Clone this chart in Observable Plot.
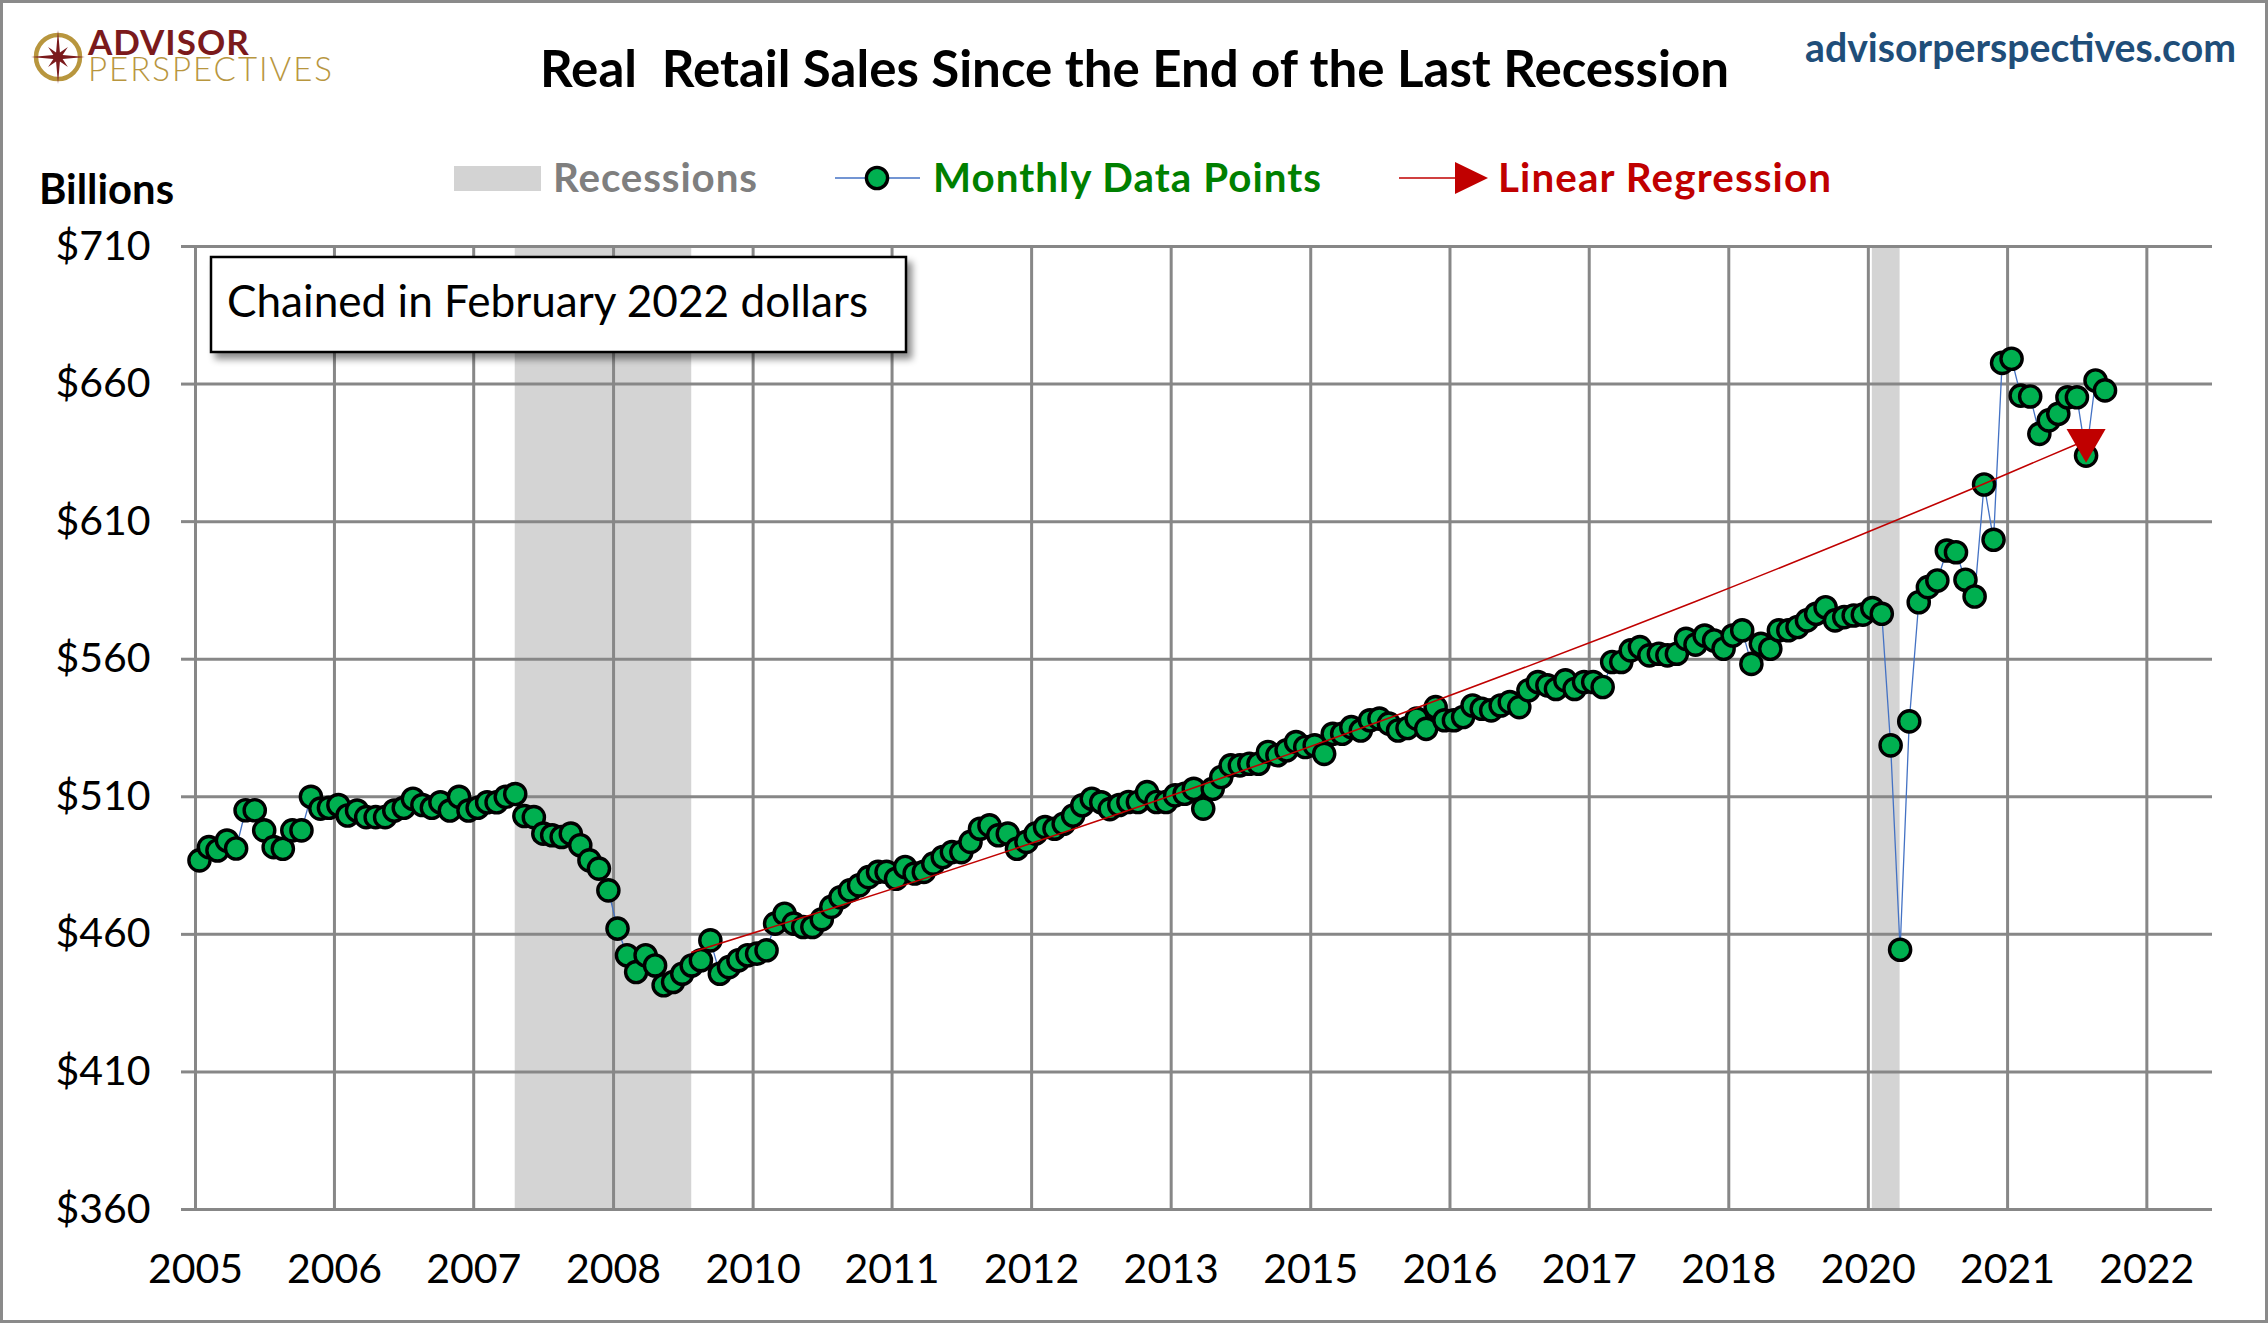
<!DOCTYPE html>
<html>
<head>
<meta charset="utf-8">
<script src="https://cdn.jsdelivr.net/npm/d3@7"></script>
<script src="https://cdn.jsdelivr.net/npm/@observablehq/plot@0.6"></script>
<style>
  html, body { margin: 0; padding: 0; background: #fff; }
  #page { position: relative; width: 2268px; height: 1323px; overflow: hidden; background: #fff; }
  #plot { position: absolute; left: 0; top: 0; }
  #overlay { position: absolute; left: 0; top: 0; }
  #logoText {
    position: absolute; left: 88px; top: 28px; margin: 0;
    font-family: Lato, 'Open Sans', sans-serif; font-size: 33px; line-height: 27px;
    white-space: pre; color: #b8963e; font-weight: 300; letter-spacing: 2px;
  }
  #logoText::first-line { color: #7b1a1c; font-weight: 700; font-size: 35px; letter-spacing: 1px; }
</style>
</head>
<body>
<div id="page">
  <div id="plot"></div>
  <svg id="overlay" width="2268" height="1323" font-family="Lato, 'Open Sans', sans-serif">
    <defs>
      <filter id="shadow" x="-5%" y="-10%" width="115%" height="140%">
        <feDropShadow dx="5" dy="6" stdDeviation="3.5" flood-color="#000" flood-opacity="0.45"/>
      </filter>
    </defs>
    <rect x="1.5" y="1.5" width="2265" height="1320" fill="none" stroke="#8a8a8a" stroke-width="3"/>
    <g transform="translate(58,57)">
      <circle r="22" fill="none" stroke="#b8963e" stroke-width="4.5"/>
      <polygon id="star" fill="#7b1a1c"/>
    </g>
    <text class="fit" data-w="1189" x="540" y="87" font-weight="700" font-size="47" fill="#000" xml:space="preserve">Real  Retail Sales Since the End of the Last Recession</text>
    <text class="fit" data-w="431" x="1805" y="62" font-weight="700" font-size="37" fill="#1f4e79">advisorperspectives.com</text>

    <rect x="454" y="166" width="87" height="25" fill="#d3d3d3"/>
    <text class="fit" data-w="204" x="553" y="192" font-weight="700" font-size="36" fill="#7f7f7f">Recessions</text>
    <line x1="835" x2="920" y1="178" y2="178" stroke="#4472c4" stroke-width="1.5"/>
    <circle cx="877" cy="178" r="10.6" fill="#00b050" stroke="#000" stroke-width="3.4"/>
    <text class="fit" data-w="388" x="933" y="192" font-weight="700" font-size="36" fill="#008000">Monthly Data Points</text>
    <line x1="1399" x2="1458" y1="178" y2="178" stroke="#c00000" stroke-width="1.6"/>
    <polygon points="1455,162 1488,178 1455,194" fill="#c00000"/>
    <text class="fit" data-w="333" x="1498" y="192" font-weight="700" font-size="36" fill="#c00000">Linear Regression</text>

    <text class="fit" data-w="135" x="39" y="204" font-weight="700" font-size="38" fill="#000">Billions</text>

    <rect x="211" y="257" width="695" height="95" fill="#fff" stroke="#000" stroke-width="2.5" filter="url(#shadow)"/>
    <text class="fit" data-w="641" x="227" y="317" font-size="40" fill="#000">Chained in February 2022 dollars</text>
  </svg>
  <div id="logoText">ADVISOR
PERSPECTIVES</div>
</div>
<script>
// ---------------- data ----------------
const firstYear = 2005;
// Real retail sales, $ billions (chained Feb 2022 dollars), one row per year, Jan..Dec
const sales2005 = [486.9, 491.7, 490.5, 494.1, 491.2, 505.1, 505.1, 497.8, 491.7, 491.1, 497.8, 497.8];
const sales2006 = [510.0, 505.7, 506.0, 507.0, 503.2, 505.0, 502.6, 502.6, 502.6, 505.0, 506.0, 509.3];
const sales2007 = [507.0, 506.0, 508.0, 505.0, 510.0, 505.0, 506.0, 508.0, 508.0, 510.0, 511.0, 503.0];
const sales2008 = [502.6, 496.6, 496.0, 495.4, 496.6, 492.4, 486.9, 483.9, 476.0, 462.1, 452.4, 446.3];
const sales2009 = [452.4, 448.7, 441.5, 442.7, 445.7, 448.7, 450.6, 457.8, 445.7, 448.1, 450.6, 452.4];
const sales2010 = [453.0, 454.2, 463.9, 467.5, 463.9, 462.7, 462.7, 465.5, 470.0, 473.5, 476.0, 477.8];
const sales2011 = [480.8, 482.7, 482.7, 480.2, 484.5, 482.1, 482.7, 485.7, 488.1, 489.9, 489.9, 493.6];
const sales2012 = [498.4, 499.6, 496.0, 496.6, 491.1, 493.6, 496.6, 499.0, 498.4, 500.2, 503.2, 506.9];
const sales2013 = [509.3, 508.0, 505.5, 507.0, 508.1, 508.1, 511.7, 508.1, 508.1, 510.5, 511.1, 512.9];
const sales2014 = [505.7, 512.9, 517.2, 521.4, 521.4, 522.0, 522.0, 526.3, 525.1, 526.9, 529.9, 528.1];
const sales2015 = [528.7, 525.6, 532.9, 532.9, 535.3, 534.1, 537.8, 538.4, 536.6, 534.1, 535.0, 538.4];
const sales2016 = [534.7, 542.6, 537.8, 537.8, 539.0, 543.2, 542.0, 541.4, 543.2, 544.4, 542.6, 548.7];
const sales2017 = [551.7, 550.5, 549.2, 552.3, 549.2, 551.7, 551.7, 549.9, 559.0, 559.0, 563.2, 564.4];
const sales2018 = [561.4, 562.0, 561.4, 562.0, 567.4, 565.3, 568.6, 566.8, 563.8, 568.6, 570.5, 558.3];
const sales2019 = [565.6, 563.8, 570.5, 570.5, 571.7, 574.1, 576.5, 578.9, 574.1, 575.3, 575.9, 576.2];
const sales2020 = [578.6, 576.5, 528.7, 454.4, 537.4, 580.7, 586.2, 588.6, 599.5, 598.9, 588.9, 582.8];
const sales2021 = [623.5, 603.4, 667.7, 669.2, 655.8, 655.5, 641.9, 646.8, 649.2, 655.2, 655.2, 634.0];
const sales2022 = [661.3, 657.7];
const salesRows = [sales2005, sales2006, sales2007, sales2008, sales2009, sales2010, sales2011, sales2012,
  sales2013, sales2014, sales2015, sales2016, sales2017, sales2018, sales2019, sales2020, sales2021, sales2022];

// NBER recessions (first and last month)
const recessionStart = ["2007-12", "2020-02"];
const recessionEnd = ["2009-06", "2020-04"];

// Regression curve at a few months
const regressionMonth = ["2009-06", "2010-09", "2013-04", "2015-11", "2018-06", "2021-01", "2021-12"];
const regressionValue = [453.5, 469.4, 503.9, 541.1, 581.0, 623.8, 639.6];

// Axis ticks (Excel date axis: a tick every 15 months from Jan 2005)
const xTickLabels = ["2005", "2006", "2007", "2008", "2010", "2011", "2012", "2013", "2015", "2016", "2017", "2018", "2020", "2021", "2022"];
const xTickStepMonths = 15;
const xAxisMonths = 217; // axis runs Jan 2005 .. Feb 2023
const yTicks = [360, 410, 460, 510, 560, 610, 660, 710];

// ---------------- build ----------------
const pointDate = (y, m) => new Date(Date.UTC(y, m, 14));
const parseMonth = s => { const [y, m] = s.split("-").map(Number); return [y, m - 1]; };

const sales = salesRows.flatMap((row, i) => row.map((v, j) => ({date: pointDate(firstYear + i, j), value: v})));
const recessions = recessionStart.map((s, i) => {
  const [y1, m1] = parseMonth(s);
  const [y2, m2] = parseMonth(recessionEnd[i]);
  return {x1: pointDate(y1, m1 - 1), x2: pointDate(y2, m2)};
});
const regression = regressionMonth.map((s, i) => { const [y, m] = parseMonth(s); return {date: pointDate(y, m), value: regressionValue[i]}; });
const xTicks = xTickLabels.map((label, k) => ({date: new Date(Date.UTC(firstYear, k * xTickStepMonths, 1)), label}));
const xDomain = [new Date(Date.UTC(firstYear, 0, 1)), new Date(Date.UTC(firstYear, xAxisMonths, 1))];
const labelByTime = new Map(xTicks.map(d => [+d.date, d.label]));
const yMin = yTicks[0], yMax = yTicks[yTicks.length - 1];
const gridColor = "#878787";

const chart = Plot.plot({
  width: 2268,
  height: 1323,
  marginLeft: 195,
  marginRight: 56,
  marginTop: 246,
  marginBottom: 114,
  style: {fontFamily: "Lato, 'Open Sans', sans-serif", fontSize: "40px", color: "#000", background: "#fff"},
  x: {type: "utc", domain: xDomain},
  y: {domain: [yMin, yMax]},
  marks: [
    Plot.rect(recessions, {x1: "x1", x2: "x2", y1: () => yMin, y2: () => yMax, fill: "#d4d4d4"}),
    Plot.ruleY(yTicks, {y: d => d, x1: () => xDomain[0], x2: () => xDomain[1], stroke: gridColor, strokeWidth: 3}),
    Plot.ruleX(xTicks, {x: "date", y1: () => yMin, y2: () => yMax, stroke: gridColor, strokeWidth: 3}),
    Plot.line(sales, {x: "date", y: "value", stroke: "#4472c4", strokeWidth: 1.3}),
    Plot.dot(sales, {x: "date", y: "value", r: 10.6, fill: "#00b050", stroke: "#000", strokeWidth: 3.4}),
    Plot.line(regression, {x: "date", y: "value", stroke: "#c00000", strokeWidth: 1.6, curve: "monotone-x"}),
    Plot.dot(regression.slice(-1), {x: "date", y: "value", symbol: "triangle", rotate: 180, r: 14.5, fill: "#c00000", stroke: "none"}),
    Plot.axisY(yTicks, {tickSize: 14, tickPadding: 31, stroke: gridColor, strokeWidth: 3, fill: "#000",
      tickFormat: d => "$" + d, fontSize: 41, label: null}),
    Plot.axisX(xTicks.map(d => d.date), {tickSize: 0, tickPadding: 44, fill: "#000",
      tickFormat: d => labelByTime.get(+d), fontSize: 41, label: null})
  ]
});
document.getElementById("plot").appendChild(chart);

// logo star
const starPts = [];
for (let k = 0; k < 16; k++) {
  const a = k * Math.PI / 8 - Math.PI / 2;
  const r = k % 2 ? 5 : (k % 4 === 0 ? 27 : 14);
  starPts.push([r * Math.cos(a), r * Math.sin(a)].map(v => v.toFixed(2)).join(","));
}
document.getElementById("star").setAttribute("points", starPts.join(" "));

// fit overlay texts to their measured widths in the reference
function fitTexts() {
  document.querySelectorAll("#overlay text.fit").forEach(t => {
    const target = +t.getAttribute("data-w");
    const size = +t.getAttribute("font-size");
    const len = t.getComputedTextLength();
    if (!len) return;
    const k = Math.max(0.88, Math.min(1.12, target / len));
    t.setAttribute("font-size", (size * k).toFixed(2));
    t.setAttribute("textLength", target);
    t.setAttribute("lengthAdjust", "spacing");
  });
}
if (document.fonts && document.fonts.ready) document.fonts.ready.then(fitTexts); else fitTexts();
</script>
</body>
</html>
